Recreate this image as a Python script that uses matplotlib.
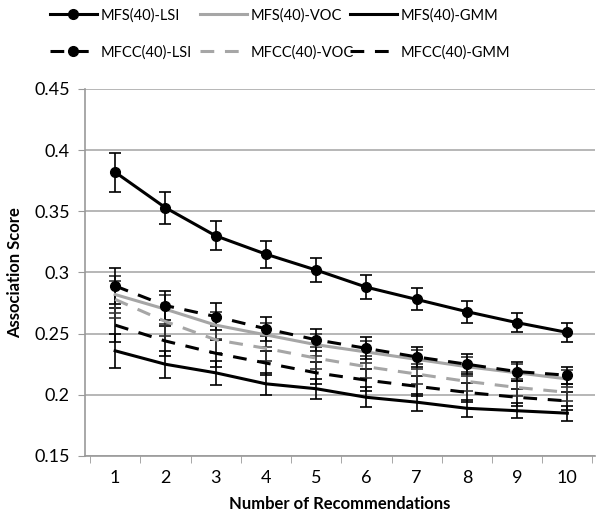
import matplotlib
matplotlib.use("Agg")
import matplotlib.pyplot as plt
from matplotlib.lines import Line2D

plt.rcParams['font.family'] = ['Lato', 'DejaVu Sans']

x = list(range(1, 11))
mfs_lsi = [0.382, 0.353, 0.330, 0.315, 0.302, 0.288, 0.278, 0.268, 0.259, 0.251]
mfs_lsi_err = [0.016, 0.013, 0.012, 0.011, 0.010, 0.010, 0.009, 0.009, 0.008, 0.008]
mfcc_lsi = [0.289, 0.273, 0.264, 0.254, 0.245, 0.238, 0.231, 0.225, 0.219, 0.216]
mfcc_lsi_err = [0.015, 0.012, 0.011, 0.010, 0.009, 0.009, 0.008, 0.008, 0.008, 0.007]
mfs_voc = [0.282, 0.270, 0.257, 0.249, 0.241, 0.235, 0.229, 0.223, 0.218, 0.213]
mfs_voc_err = [0.015, 0.012, 0.011, 0.010, 0.009, 0.009, 0.008, 0.008, 0.007, 0.007]
mfcc_voc = [0.278, 0.260, 0.245, 0.238, 0.230, 0.223, 0.217, 0.211, 0.206, 0.202]
mfcc_voc_err = [0.015, 0.012, 0.011, 0.010, 0.009, 0.009, 0.008, 0.008, 0.007, 0.007]
mfcc_gmm = [0.257, 0.244, 0.234, 0.226, 0.218, 0.212, 0.207, 0.202, 0.198, 0.195]
mfcc_gmm_err = [0.014, 0.012, 0.011, 0.010, 0.009, 0.009, 0.008, 0.008, 0.007, 0.007]
mfs_gmm = [0.236, 0.225, 0.218, 0.209, 0.205, 0.198, 0.194, 0.189, 0.187, 0.185]
mfs_gmm_err = [0.014, 0.011, 0.010, 0.009, 0.008, 0.008, 0.007, 0.007, 0.006, 0.006]

labels = ['MFS(40)-LSI', 'MFCC(40)-LSI', 'MFS(40)-VOC', 'MFCC(40)-VOC', 'MFS(40)-GMM', 'MFCC(40)-GMM']

fig = plt.figure(figsize=(6.05, 5.14), dpi=100)
ax = fig.add_axes([85/605, 1-456/514, (595-85)/605, (456-89)/514])

black = '#000000'
gray = '#a6a6a6'
dash = (4.5, 3.5)
lw = 2.2

series = [
    (mfs_gmm, mfs_gmm_err, black, '-', None),
    (mfcc_gmm, mfcc_gmm_err, black, '--', None),
    (mfcc_voc, mfcc_voc_err, gray, '--', None),
    (mfs_voc, mfs_voc_err, gray, '-', None),
    (mfcc_lsi, mfcc_lsi_err, black, '--', 'o'),
    (mfs_lsi, mfs_lsi_err, black, '-', 'o'),
]
for y, e, c, ls, m in series:
    ax.errorbar(x, y, yerr=e, color=c, lw=lw, marker=m, ms=7,
                ecolor=black if c == black else '#333333', elinewidth=1.2, capsize=4.5, capthick=1.2,
                **({'dashes': dash} if ls == '--' else {'linestyle': '-'}))

ax.set_xlim(0.4, 10.55)
ax.set_ylim(0.15, 0.45)
ax.set_yticks([0.15, 0.2, 0.25, 0.3, 0.35, 0.4, 0.45])
ax.set_yticklabels(['0.15', '0.2', '0.25', '0.3', '0.35', '0.4', '0.45'])
ax.set_xticks(x)
ax.set_xticks([i + 0.5 for i in range(0, 11)], minor=True)
ax.tick_params(axis='x', which='major', length=0, pad=10, labelsize=13)
ax.tick_params(axis='x', which='minor', length=5, color='#999999', direction='out')
ax.tick_params(axis='y', length=5, color='#999999', direction='out', labelsize=13, pad=6)
ax.grid(axis='y', color='#aaaaaa', lw=1.2)
ax.set_axisbelow(True)
for s in ['top', 'right']:
    ax.spines[s].set_visible(False)
for s in ['left', 'bottom']:
    ax.spines[s].set_color('#999999')
    ax.spines[s].set_linewidth(1.2)

ax.set_xlabel('Number of Recommendations', fontsize=12, fontweight='bold', labelpad=7)
ax.set_ylabel('Association Score', fontsize=12, fontweight='bold', labelpad=8)

handles = [
    Line2D([], [], color=black, lw=lw, marker='o', ms=7),
    Line2D([], [], color=black, lw=lw, marker='o', ms=7, dashes=dash),
    Line2D([], [], color=gray, lw=lw),
    Line2D([], [], color=gray, lw=lw, dashes=dash),
    Line2D([], [], color=black, lw=lw),
    Line2D([], [], color=black, lw=lw, dashes=dash),
]
col_x = [42, 192, 342]
for i, cx in enumerate(col_x):
    fig.legend(handles[2*i:2*i+2], labels[2*i:2*i+2], loc='upper left',
               bbox_to_anchor=(cx/605, 1.0), borderaxespad=0, borderpad=0.55,
               frameon=False, handlelength=3.2, handletextpad=0.3, labelspacing=1.55,
               prop={'family': ['Lato'], 'size': 10.5})

fig.savefig('out.png', dpi=100)
